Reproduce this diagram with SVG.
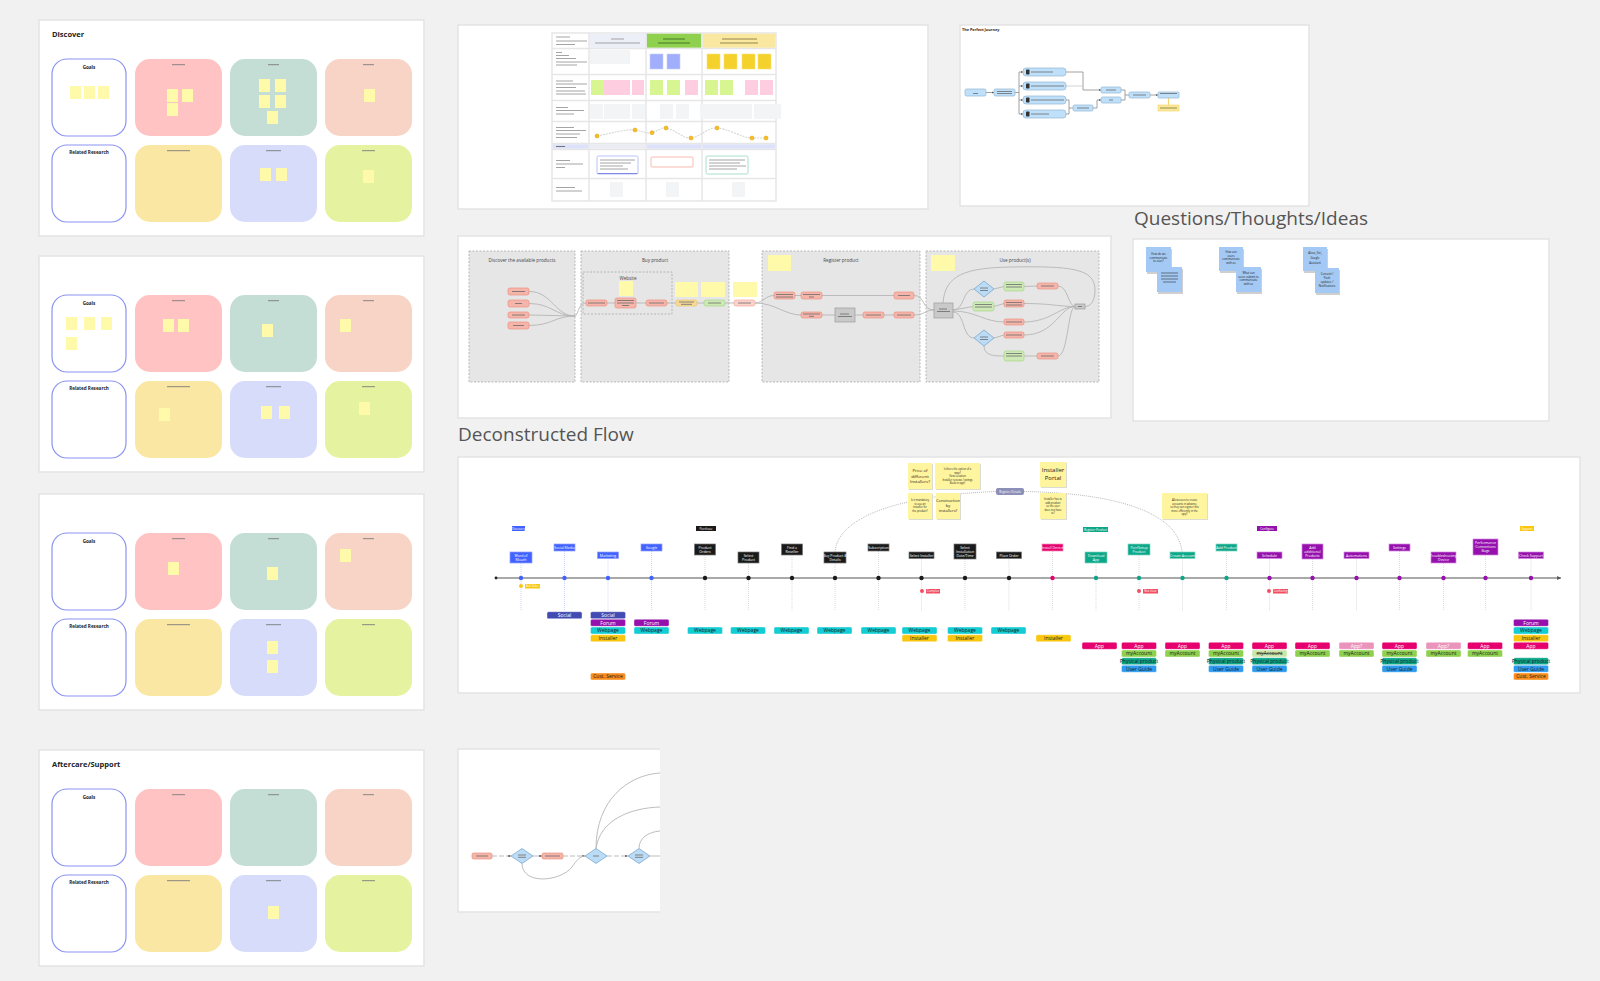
<svg xmlns="http://www.w3.org/2000/svg" width="1600" height="981" viewBox="0 0 1600 981">
<defs>
<style>
.f{font-family:"Open Sans","Liberation Sans",sans-serif}
.panel{fill:#fff;stroke:#e3e3e3;stroke-width:1.5}
.goal{fill:#fff;stroke:#8a93f0;stroke-width:1.2}
.cr{fill:#ffc3c3}.cg{fill:#c4ded6}.cp{fill:#f8d4c6}.cy{fill:#fae7a3}.cl{fill:#d7dcfa}.cm{fill:#e5f3a0}
.st{fill:#fff9aa}
.bar{stroke:#7a7a7a;stroke-width:0.9}
.ttl{font-family:"Open Sans","Liberation Sans",sans-serif;font-size:7.5px;font-weight:bold;fill:#222}
.lbl{font-family:"Open Sans","Liberation Sans",sans-serif;font-size:4.6px;font-weight:bold;fill:#222;text-anchor:middle}
.big{font-family:"Open Sans","Liberation Sans",sans-serif;font-size:19px;fill:#555}
.gl{stroke:#9a9a9a;stroke-width:0.9}
.cell{fill:#f3f4f6}
.conn{fill:none;stroke:#8a8a8a;stroke-width:0.8}
.lconn{fill:none;stroke:#b5b5b5;stroke-width:0.9}
.lane{fill:#e6e6e6;stroke:#a8a8a8;stroke-width:0.8;stroke-dasharray:2 1.5}
.lt{font-family:"Open Sans","Liberation Sans",sans-serif;font-size:4.6px;fill:#444;text-anchor:middle}
.sal{fill:#f6b5aa;stroke:#eb8f80;stroke-width:0.7}
.grn{fill:#cde9b5;stroke:#a8d58a;stroke-width:0.7}
.gry{fill:#c9c9c9;stroke:#9a9a9a;stroke-width:0.7}
.dia{fill:#bcdcf5;stroke:#6f9fcb;stroke-width:0.7}
.jn{fill:#bfe0fa;stroke:#93b5cf;stroke-width:0.7}
.il{stroke:#6a6a6a;stroke-width:0.8}
.bst{fill:#a3c9f4}
.qt{font-family:"Open Sans","Liberation Sans",sans-serif;font-size:2.8px;fill:#222;text-anchor:middle}
.ys{fill:#fff59f}
.yt{font-family:"Open Sans","Liberation Sans",sans-serif;fill:#222;text-anchor:middle}
.lb{stroke-width:0.7}
.lw{font-family:"Open Sans","Liberation Sans",sans-serif;font-size:3.5px;fill:#fff;text-anchor:middle}
.vd{stroke:#c4c4c4;stroke-width:0.6;stroke-dasharray:1 1}
.vb{stroke:#aab6ff;stroke-width:0.6;stroke-dasharray:1 1}
.tg{stroke:#fff;stroke-width:0.4}
.tt{font-family:"Open Sans","Liberation Sans",sans-serif;font-size:5px;fill:#1a1a1a;text-anchor:middle}
.tw{font-family:"Open Sans","Liberation Sans",sans-serif;font-size:5px;fill:#fff;text-anchor:middle}
.soc{fill:#414bb2}.for{fill:#9510ac}.web{fill:#12cdd4}.ins{fill:#fac710}.cus{fill:#f88d1e}.app{fill:#e6006e}.apq{fill:#ea94bb}.acc{fill:#8fd14f}.acs{fill:#c9e6a8}.phy{fill:#0ca789}.ug{fill:#2d9bf0}
.pt{font-family:"Open Sans","Liberation Sans",sans-serif;font-size:3px;fill:#fff;text-anchor:middle}
</style>
<marker id="arr" viewBox="0 0 4 4" refX="4" refY="2" markerWidth="3" markerHeight="3" orient="auto"><path d="M0,0 L4,2 L0,4z" fill="#555"/></marker>
</defs>

<rect x="0" y="0" width="1600" height="981" fill="#f1f1f1"/>

<!-- Left panel 1 -->
<g id="panel-discover" transform="translate(0,20)">
<rect class="panel" x="39" y="0" width="385" height="216"/>
<text class="ttl" x="52" y="17">Discover</text>
<rect class="goal" x="52" y="39" width="74" height="77" rx="15"/>
<text class="lbl" x="89" y="48.5">Goals</text>
<rect class="cr" x="135" y="39" width="87" height="77" rx="15"/><line class="bar" x1="172" y1="44.7" x2="185" y2="44.7"/>
<rect class="cg" x="230" y="39" width="87" height="77" rx="15"/><line class="bar" x1="268" y1="44.7" x2="279" y2="44.7"/>
<rect class="cp" x="325" y="39" width="87" height="77" rx="15"/><line class="bar" x1="363" y1="44.7" x2="374" y2="44.7"/>
<rect class="goal" x="52" y="125" width="74" height="77" rx="15"/>
<text class="lbl" x="89" y="134">Related Research</text>
<rect class="cy" x="135" y="125" width="87" height="77" rx="15"/><line class="bar" x1="167" y1="130.7" x2="190" y2="130.7"/>
<rect class="cl" x="230" y="125" width="87" height="77" rx="15"/><line class="bar" x1="266" y1="130.7" x2="281" y2="130.7"/>
<rect class="cm" x="325" y="125" width="87" height="77" rx="15"/><line class="bar" x1="362" y1="130.7" x2="375" y2="130.7"/>
<rect class="st" x="70" y="66" width="11" height="13"/><rect class="st" x="84" y="66" width="11" height="13"/><rect class="st" x="98" y="66" width="11" height="13"/>
<rect class="st" x="167" y="69" width="11" height="13"/><rect class="st" x="182" y="69" width="11" height="13"/><rect class="st" x="167" y="83" width="11" height="13"/>
<rect class="st" x="259" y="59" width="11" height="13"/><rect class="st" x="275" y="59" width="11" height="13"/><rect class="st" x="259" y="75" width="11" height="13"/><rect class="st" x="275" y="75" width="11" height="13"/><rect class="st" x="267" y="91" width="11" height="13"/>
<rect class="st" x="364" y="69" width="11" height="13"/>
<rect class="st" x="260" y="148" width="11" height="13"/><rect class="st" x="276" y="148" width="11" height="13"/>
<rect class="st" x="363" y="150" width="11" height="13"/>
</g>

<!-- Left panel 2 -->
<g id="panel-2" transform="translate(0,256)">
<rect class="panel" x="39" y="0" width="385" height="216"/>
<rect class="goal" x="52" y="39" width="74" height="77" rx="15"/>
<text class="lbl" x="89" y="48.5">Goals</text>
<rect class="cr" x="135" y="39" width="87" height="77" rx="15"/><line class="bar" x1="172" y1="44.7" x2="185" y2="44.7"/>
<rect class="cg" x="230" y="39" width="87" height="77" rx="15"/><line class="bar" x1="268" y1="44.7" x2="279" y2="44.7"/>
<rect class="cp" x="325" y="39" width="87" height="77" rx="15"/><line class="bar" x1="363" y1="44.7" x2="374" y2="44.7"/>
<rect class="goal" x="52" y="125" width="74" height="77" rx="15"/>
<text class="lbl" x="89" y="134">Related Research</text>
<rect class="cy" x="135" y="125" width="87" height="77" rx="15"/><line class="bar" x1="167" y1="130.7" x2="190" y2="130.7"/>
<rect class="cl" x="230" y="125" width="87" height="77" rx="15"/><line class="bar" x1="266" y1="130.7" x2="281" y2="130.7"/>
<rect class="cm" x="325" y="125" width="87" height="77" rx="15"/><line class="bar" x1="362" y1="130.7" x2="375" y2="130.7"/>
<rect class="st" x="66" y="61" width="11" height="13"/><rect class="st" x="84" y="61" width="11" height="13"/><rect class="st" x="101" y="61" width="11" height="13"/><rect class="st" x="66" y="81" width="11" height="13"/>
<rect class="st" x="163" y="63" width="11" height="13"/><rect class="st" x="178" y="63" width="11" height="13"/>
<rect class="st" x="262" y="68" width="11" height="13"/>
<rect class="st" x="340" y="63" width="11" height="13"/>
<rect class="st" x="159" y="152" width="11" height="13"/>
<rect class="st" x="261" y="150" width="11" height="13"/><rect class="st" x="279" y="150" width="11" height="13"/>
<rect class="st" x="359" y="146" width="11" height="13"/>
</g>

<!-- Left panel 3 -->
<g id="panel-3" transform="translate(0,494)">
<rect class="panel" x="39" y="0" width="385" height="216"/>
<rect class="goal" x="52" y="39" width="74" height="77" rx="15"/>
<text class="lbl" x="89" y="48.5">Goals</text>
<rect class="cr" x="135" y="39" width="87" height="77" rx="15"/><line class="bar" x1="172" y1="44.7" x2="185" y2="44.7"/>
<rect class="cg" x="230" y="39" width="87" height="77" rx="15"/><line class="bar" x1="268" y1="44.7" x2="279" y2="44.7"/>
<rect class="cp" x="325" y="39" width="87" height="77" rx="15"/><line class="bar" x1="363" y1="44.7" x2="374" y2="44.7"/>
<rect class="goal" x="52" y="125" width="74" height="77" rx="15"/>
<text class="lbl" x="89" y="134">Related Research</text>
<rect class="cy" x="135" y="125" width="87" height="77" rx="15"/><line class="bar" x1="167" y1="130.7" x2="190" y2="130.7"/>
<rect class="cl" x="230" y="125" width="87" height="77" rx="15"/><line class="bar" x1="266" y1="130.7" x2="281" y2="130.7"/>
<rect class="cm" x="325" y="125" width="87" height="77" rx="15"/><line class="bar" x1="362" y1="130.7" x2="375" y2="130.7"/>
<rect class="st" x="168" y="68" width="11" height="13"/>
<rect class="st" x="267" y="73" width="11" height="13"/>
<rect class="st" x="340" y="55" width="11" height="13"/>
<rect class="st" x="267" y="147" width="11" height="13"/><rect class="st" x="267" y="166" width="11" height="13"/>
</g>

<!-- Left panel 4 -->
<g id="panel-aftercare" transform="translate(0,750)">
<rect class="panel" x="39" y="0" width="385" height="216"/>
<text class="ttl" x="52" y="17">Aftercare/Support</text>
<rect class="goal" x="52" y="39" width="74" height="77" rx="15"/>
<text class="lbl" x="89" y="48.5">Goals</text>
<rect class="cr" x="135" y="39" width="87" height="77" rx="15"/><line class="bar" x1="172" y1="44.7" x2="185" y2="44.7"/>
<rect class="cg" x="230" y="39" width="87" height="77" rx="15"/><line class="bar" x1="268" y1="44.7" x2="279" y2="44.7"/>
<rect class="cp" x="325" y="39" width="87" height="77" rx="15"/><line class="bar" x1="363" y1="44.7" x2="374" y2="44.7"/>
<rect class="goal" x="52" y="125" width="74" height="77" rx="15"/>
<text class="lbl" x="89" y="134">Related Research</text>
<rect class="cy" x="135" y="125" width="87" height="77" rx="15"/><line class="bar" x1="167" y1="130.7" x2="190" y2="130.7"/>
<rect class="cl" x="230" y="125" width="87" height="77" rx="15"/><line class="bar" x1="266" y1="130.7" x2="281" y2="130.7"/>
<rect class="cm" x="325" y="125" width="87" height="77" rx="15"/><line class="bar" x1="362" y1="130.7" x2="375" y2="130.7"/>
<rect class="st" x="268" y="156" width="11" height="13"/>
</g>

<!-- Journey map table -->
<g id="journey-table">
<rect class="panel" x="458" y="25" width="470" height="184"/>
<rect x="552" y="33" width="224" height="168" fill="#fff" stroke="#e6e6e6" stroke-width="1.5"/>
<rect x="589.7" y="33.7" width="55.6" height="14.1" fill="#eceef8"/>
<rect x="646.7" y="33.7" width="54.6" height="14.1" fill="#8fd14f"/>
<rect x="702.7" y="33.7" width="72.6" height="14.1" fill="#fae8a0"/>
<rect x="552.7" y="144.2" width="35.6" height="4.6" fill="#dde1fa"/>
<rect x="589.7" y="144.2" width="55.6" height="4.6" fill="#ecedf4"/>
<rect x="646.7" y="144.2" width="54.6" height="4.6" fill="#dde1fa"/>
<rect x="702.7" y="144.2" width="72.6" height="4.6" fill="#dde1fa"/>
<g stroke="#e6e6e6" stroke-width="1.5">
<line x1="589" y1="33" x2="589" y2="201"/><line x1="646" y1="33" x2="646" y2="201"/><line x1="702" y1="33" x2="702" y2="201"/>
<line x1="552" y1="48.5" x2="776" y2="48.5"/><line x1="552" y1="74.5" x2="776" y2="74.5"/><line x1="552" y1="100.5" x2="776" y2="100.5"/><line x1="552" y1="121.5" x2="776" y2="121.5"/><line x1="552" y1="143.5" x2="776" y2="143.5"/><line x1="552" y1="149.5" x2="776" y2="149.5"/><line x1="552" y1="178.5" x2="776" y2="178.5"/>
</g>
<g class="gl">
<line x1="556" y1="37" x2="570" y2="37"/><line x1="556" y1="41" x2="587" y2="41"/><line x1="556" y1="44.5" x2="575" y2="44.5"/>
<line x1="556" y1="52.5" x2="562" y2="52.5"/><line x1="556" y1="55.5" x2="569" y2="55.5"/><line x1="556" y1="58.5" x2="576" y2="58.5"/><line x1="556" y1="62" x2="587" y2="62"/><line x1="556" y1="65" x2="577" y2="65"/>
<line x1="556" y1="81" x2="573" y2="81"/><line x1="556" y1="84" x2="587" y2="84"/><line x1="556" y1="87.5" x2="576" y2="87.5"/><line x1="556" y1="91" x2="585" y2="91"/><line x1="556" y1="94" x2="586" y2="94"/>
<line x1="556" y1="107.5" x2="568" y2="107.5"/><line x1="556" y1="110.5" x2="584" y2="110.5"/><line x1="556" y1="114" x2="574" y2="114"/>
<line x1="556" y1="127.5" x2="574" y2="127.5"/><line x1="556" y1="130.5" x2="586" y2="130.5"/><line x1="556" y1="134" x2="580" y2="134"/><line x1="556" y1="137.5" x2="577" y2="137.5"/>
<line x1="556" y1="146.5" x2="565" y2="146.5" stroke="#666"/>
<line x1="556" y1="160.5" x2="570" y2="160.5"/><line x1="556" y1="164" x2="583" y2="164"/><line x1="556" y1="167.5" x2="565" y2="167.5"/>
<line x1="556" y1="187.5" x2="575" y2="187.5"/><line x1="556" y1="191" x2="582" y2="191"/>
<line x1="611" y1="39" x2="624" y2="39"/><line x1="595" y1="43" x2="640" y2="43"/>
<line x1="663" y1="39" x2="685" y2="39" stroke="#3d6b1f"/><line x1="658" y1="43" x2="690" y2="43" stroke="#3d6b1f"/>
<line x1="722" y1="39" x2="757" y2="39" stroke="#8a7a40"/><line x1="720" y1="43" x2="758" y2="43" stroke="#8a7a40"/>
</g>
<rect class="cell" x="590" y="50" width="40" height="14"/>
<g fill="#a1aefc" stroke="#c6cefc" stroke-width="0.6"><rect x="650" y="54" width="13" height="15"/><rect x="667" y="54" width="13" height="15"/></g>
<g fill="#f5d12c" stroke="#f9e27a" stroke-width="0.6"><rect x="707" y="54" width="13" height="15"/><rect x="724" y="54" width="13" height="15"/><rect x="742" y="54" width="13" height="15"/><rect x="758" y="54" width="13" height="15"/></g>
<g fill="#d7f590"><rect x="591" y="80" width="13" height="15"/><rect x="650" y="80" width="13" height="15"/><rect x="667" y="80" width="13" height="15"/><rect x="705" y="80" width="13" height="15"/><rect x="720" y="80" width="13" height="15"/></g>
<g fill="#ffcde0"><rect x="604" y="80" width="26" height="15"/><rect x="632" y="80" width="12" height="15"/><rect x="685" y="80" width="13" height="15"/><rect x="745" y="80" width="13" height="15"/><rect x="760" y="80" width="13" height="15"/></g>
<g class="cell"><rect x="590" y="104" width="13" height="15"/><rect x="604" y="104" width="26" height="15"/><rect x="632" y="104" width="13" height="15"/><rect x="660" y="104" width="13" height="15"/><rect x="676" y="104" width="13" height="15"/><rect x="700" y="104" width="52" height="15"/><rect x="754" y="104" width="27" height="15"/></g>
<path d="M597,136 C613,133 625,129 635,130 C642,131 647,134 652,132.7 C658,131 661,127 666,128 C676,130 684,139 691,138 C700,137 708,127 717,128 C730,129 742,138 752,138 L766,138" fill="none" stroke="#d6d6d6" stroke-width="1.1" stroke-dasharray="2 1"/>
<g fill="#f7bd25" stroke="#e09a00" stroke-width="0.5"><circle cx="597" cy="136" r="2"/><circle cx="635" cy="130" r="2"/><circle cx="652" cy="132.7" r="2"/><circle cx="666" cy="128" r="2"/><circle cx="691" cy="138" r="2"/><circle cx="717" cy="128" r="2"/><circle cx="752" cy="138" r="2"/><circle cx="766" cy="138" r="2"/></g>
<rect x="597" y="156" width="41" height="18" rx="1.5" fill="#fff" stroke="#a9b1f5" stroke-width="0.8"/>
<line x1="597.5" y1="173.5" x2="637.5" y2="173.5" stroke="#7d88e8" stroke-width="1.2"/>
<g class="gl" stroke-width="0.7"><line x1="600" y1="160" x2="635" y2="160"/><line x1="600" y1="163" x2="631" y2="163"/><line x1="600" y1="166" x2="623" y2="166"/><line x1="600" y1="169" x2="628" y2="169"/></g>
<rect x="651" y="157" width="42" height="10" rx="1" fill="#fff" stroke="#f7a79a" stroke-width="0.8"/>
<rect x="706" y="156" width="42" height="18" rx="1.5" fill="#fff" stroke="#8fd6c0" stroke-width="0.8"/>
<g class="gl" stroke-width="0.7"><line x1="709" y1="160" x2="745" y2="160"/><line x1="709" y1="163" x2="740" y2="163"/><line x1="709" y1="166" x2="746" y2="166"/><line x1="709" y1="169" x2="737" y2="169"/></g>
<rect class="cell" x="610" y="182" width="13" height="15"/><rect class="cell" x="666" y="182" width="13" height="15"/><rect class="cell" x="732" y="182" width="13" height="15"/>
</g>

<!-- The Perfect Journey -->
<g id="perfect-journey">
<rect class="panel" x="960" y="25" width="349" height="181"/>
<text class="f" x="962" y="30.5" font-size="3.8" font-weight="bold" fill="#222">The Perfect Journey</text>
<g class="conn">
<path d="M986,92.5 L994,92.5" marker-end="url(#arr)"/>
<path d="M1015,92.5 L1019,92.5 M1019,72 L1019,114"/>
<path d="M1019,72 L1023,72" marker-end="url(#arr)"/><path d="M1019,86 L1023,86" marker-end="url(#arr)"/><path d="M1019,100 L1023,100" marker-end="url(#arr)"/><path d="M1019,114 L1023,114" marker-end="url(#arr)"/>
<path d="M1066,72 L1083,72 L1083,90 L1101,90" marker-end="url(#arr)"/>
<path d="M1066,86 L1083,86" stroke="#c8c8c8"/>
<path d="M1066,100 L1069,100 L1069,114 L1066,114 M1069,108 L1073,108"/>
<path d="M1093,108 L1097,108 L1097,100 L1101,100" marker-end="url(#arr)"/>
<path d="M1121,90 L1125,90 L1125,100 L1121,100 M1125,95 L1129,95"/>
<path d="M1150,95 L1158,95" marker-end="url(#arr)"/>
</g>
<line x1="1168.5" y1="98" x2="1168.5" y2="105" stroke="#f3c94a" stroke-width="0.8"/>
<rect class="jn" x="965" y="89" width="21" height="7" rx="1.5"/><line class="il" x1="973" y1="93.5" x2="978" y2="93.5"/>
<rect class="jn" x="994" y="89" width="21" height="7" rx="1.5"/><line class="il" x1="997" y1="91.5" x2="1012" y2="91.5"/><line class="il" x1="997" y1="93.5" x2="1012" y2="93.5"/>
<rect class="jn" x="1023" y="68" width="43" height="8" rx="3"/><rect x="1026" y="69.5" width="3.5" height="5" rx="0.8" fill="#333"/><line class="il" x1="1031" y1="72" x2="1053" y2="72"/>
<rect class="jn" x="1023" y="82" width="43" height="8" rx="3"/><rect x="1026" y="83.5" width="3.5" height="5" rx="0.8" fill="#333"/><line class="il" x1="1031" y1="86" x2="1064" y2="86"/>
<rect class="jn" x="1023" y="96" width="43" height="8" rx="3"/><rect x="1026" y="97.5" width="3.5" height="5" rx="0.8" fill="#333"/><line class="il" x1="1031" y1="100" x2="1064" y2="100"/>
<rect class="jn" x="1023" y="110" width="43" height="8" rx="3"/><rect x="1026" y="111.5" width="3.5" height="5" rx="0.8" fill="#333"/><line class="il" x1="1031" y1="114" x2="1049" y2="114"/>
<rect class="jn" x="1073" y="105" width="20" height="6" rx="1.5"/><line class="il" x1="1077" y1="108" x2="1089" y2="108"/>
<rect class="jn" x="1101" y="87" width="20" height="6" rx="1.5"/><line class="il" x1="1106" y1="90" x2="1116" y2="90"/>
<rect class="jn" x="1101" y="97" width="20" height="6" rx="1.5"/><line class="il" x1="1109" y1="100" x2="1113" y2="100"/>
<rect class="jn" x="1129" y="92" width="21" height="6" rx="1.5"/><line class="il" x1="1133" y1="95" x2="1146" y2="95"/>
<rect class="jn" x="1158" y="92" width="21" height="6" rx="1"/><line class="il" x1="1160" y1="93.5" x2="1177" y2="93.5"/>
<rect x="1158" y="105" width="21" height="6" fill="#fbe99a" stroke="#f3d36a" stroke-width="0.6"/><line x1="1160" y1="108" x2="1177" y2="108" stroke="#a89a5a" stroke-width="1.2"/>
</g>

<!-- Middle flow -->
<g id="product-flow">
<rect class="panel" x="458" y="236" width="653" height="182"/>
<rect class="lane" x="469" y="251" width="106" height="131"/>
<text class="lt" x="522" y="261.5">Discover the available products</text>
<rect class="lane" x="581" y="251" width="148" height="131"/>
<text class="lt" x="655" y="262">Buy product</text>
<rect x="583" y="272" width="89" height="42" fill="none" stroke="#a8a8a8" stroke-width="0.8" stroke-dasharray="2 1.5"/>
<text class="lt" x="628" y="279.5">Website</text>
<rect class="lane" x="762" y="251" width="158" height="131"/>
<text class="lt" x="841" y="262">Register product</text>
<rect class="lane" x="926" y="251" width="173" height="131"/>
<text class="lt" x="1015" y="262">Use product(s)</text>
<g class="st"><rect x="619" y="281" width="14" height="15"/><rect x="675" y="282" width="23" height="15"/><rect x="701" y="282" width="24" height="15"/><rect x="733" y="282" width="24" height="15"/><rect x="768" y="255" width="23" height="16"/><rect x="931" y="255" width="24" height="16"/></g>
<g class="lconn">
<path d="M529,291.5 C552,291.5 555,316 575,316"/><path d="M529,303.5 C552,303.5 555,316 575,316"/><path d="M529,315 L575,316"/><path d="M529,325.5 C552,325.5 555,316 575,316"/>
<path d="M575,316 C578,316 578,303 586,303"/>
<path d="M607,303 L615,303"/><path d="M636,303 L646,303"/><path d="M667,303 L676,303"/><path d="M697,303 L704,303"/><path d="M725,303 L734,303"/>
<path d="M755,303 C763,303 765,295.5 774,295.5"/><path d="M755,303 C775,303 785,315 801,315"/>
<path d="M795,295.5 L801,295.5"/><path d="M822,295.5 L894,295.5"/>
<path d="M822,315 L835,315"/><path d="M855,315 L863,315"/><path d="M884,315 L894,315"/>
<path d="M914,295.5 C925,295.5 922,310 934,310"/><path d="M914,315 C925,315 925,310 934,310"/>
<path d="M953,310 C965,310 962,289 974,289"/><path d="M953,310 L973,306.5"/><path d="M953,311 C975,311 985,322 1004,322"/><path d="M953,312 C965,312 962,338 974,338"/>
<path d="M994,289 L1004,286.5"/><path d="M1024,286.5 L1037,286"/><path d="M994,306.5 L1004,303.5"/><path d="M994,338 L1004,335"/>
<path d="M984,346 C984,356 995,356 1004,356"/><path d="M1024,356 L1037,356"/>
<path d="M1058,286 C1068,286 1068,306 1075,306.5"/><path d="M1024,303.5 C1050,303.5 1060,306.5 1075,306.5"/><path d="M1024,322 C1050,322 1060,306.5 1075,306.5"/><path d="M1024,335 C1055,335 1060,306.5 1075,306.5"/><path d="M1058,356 C1068,356 1068,306.5 1075,306.5"/>
<path d="M943,303 C945,275 965,268 1010,267 C1070,266 1095,268 1095,290 C1095,302 1090,306.5 1085,306.5"/>
</g>
<rect class="sal" x="508" y="288" width="21" height="7" rx="2"/><line class="il" x1="512" y1="291.5" x2="525" y2="291.5"/>
<rect class="sal" x="508" y="300" width="21" height="7" rx="2"/><line class="il" x1="515" y1="303.5" x2="522" y2="303.5"/>
<rect class="sal" x="508" y="312" width="21" height="6" rx="2"/><line class="il" x1="512" y1="315" x2="525" y2="315"/>
<rect class="sal" x="508" y="322" width="21" height="7" rx="2"/><line class="il" x1="513" y1="325.5" x2="524" y2="325.5"/>
<rect class="sal" x="586" y="300" width="21" height="6" rx="2"/><line class="il" x1="588" y1="303" x2="605" y2="303"/>
<rect class="sal" x="615" y="298" width="21" height="10" rx="2"/><line class="il" x1="617" y1="300.5" x2="634" y2="300.5"/><line class="il" x1="617" y1="303" x2="634" y2="303"/><line class="il" x1="622" y1="305.5" x2="629" y2="305.5"/>
<rect class="sal" x="646" y="300" width="21" height="6" rx="2"/><line class="il" x1="649" y1="303" x2="664" y2="303"/>
<rect x="676" y="300" width="21" height="6" rx="2" fill="#f7da99" stroke="#e6c46c" stroke-width="0.7"/><line class="il" x1="679" y1="302" x2="694" y2="302"/><line class="il" x1="681" y1="304.3" x2="692" y2="304.3"/>
<rect class="grn" x="704" y="300" width="21" height="6" rx="2"/><line class="il" x1="708" y1="303" x2="721" y2="303"/>
<rect x="734" y="300" width="21" height="6" rx="2" fill="#fcd3cc" stroke="#f3a99c" stroke-width="0.7"/><line class="il" x1="738" y1="303" x2="751" y2="303"/>
<rect class="sal" x="774" y="292" width="21" height="7" rx="2"/><line class="il" x1="776" y1="294.5" x2="793" y2="294.5"/><line class="il" x1="776" y1="297" x2="793" y2="297"/>
<rect class="sal" x="801" y="292" width="21" height="7" rx="2"/><line class="il" x1="803" y1="294.5" x2="820" y2="294.5"/><line class="il" x1="809" y1="297" x2="814" y2="297"/>
<rect class="sal" x="894" y="292" width="20" height="7" rx="2"/><line class="il" x1="898" y1="295.5" x2="910" y2="295.5"/>
<rect class="sal" x="801" y="312" width="21" height="6" rx="2"/><line class="il" x1="803" y1="314" x2="820" y2="314"/><line class="il" x1="809" y1="316.3" x2="814" y2="316.3"/>
<rect class="gry" x="835" y="308" width="20" height="14"/><line class="il" x1="840" y1="314" x2="849" y2="314"/><line class="il" x1="838" y1="316.5" x2="852" y2="316.5"/>
<rect class="sal" x="863" y="312" width="21" height="6" rx="2"/><line class="il" x1="866" y1="315" x2="881" y2="315"/>
<rect class="sal" x="894" y="312" width="20" height="6" rx="2"/><line class="il" x1="897" y1="315" x2="911" y2="315"/>
<rect class="gry" x="934" y="303" width="19" height="15"/><line class="il" x1="939" y1="309" x2="947" y2="309"/><line class="il" x1="937" y1="311.5" x2="950" y2="311.5"/>
<path class="dia" d="M984,281 L994,289 L984,297 L974,289 Z"/><line class="il" x1="980" y1="288" x2="988" y2="288"/><line class="il" x1="980" y1="290.5" x2="988" y2="290.5"/>
<path class="dia" d="M984,330 L994,338 L984,346 L974,338 Z"/><line class="il" x1="980" y1="337" x2="988" y2="337"/><line class="il" x1="980" y1="339.5" x2="988" y2="339.5"/>
<rect class="grn" x="1004" y="282" width="20" height="9" rx="2"/><line class="il" x1="1006" y1="284.5" x2="1022" y2="284.5"/><line class="il" x1="1006" y1="287" x2="1022" y2="287"/>
<rect class="grn" x="973" y="302" width="21" height="9" rx="2"/><line class="il" x1="975" y1="304.5" x2="992" y2="304.5"/><line class="il" x1="975" y1="307" x2="992" y2="307"/>
<rect class="grn" x="1004" y="351" width="20" height="10" rx="2"/><line class="il" x1="1006" y1="353.5" x2="1022" y2="353.5"/><line class="il" x1="1006" y1="356" x2="1022" y2="356"/>
<rect class="sal" x="1037" y="283" width="21" height="6" rx="2"/><line class="il" x1="1041" y1="286" x2="1054" y2="286"/>
<rect class="sal" x="1004" y="300" width="20" height="7" rx="2"/><line class="il" x1="1006" y1="302.5" x2="1022" y2="302.5"/><line class="il" x1="1006" y1="305" x2="1022" y2="305"/>
<rect class="sal" x="1004" y="319" width="20" height="6" rx="2"/><line class="il" x1="1006" y1="322" x2="1022" y2="322"/>
<rect class="sal" x="1004" y="332" width="20" height="6" rx="2"/><line class="il" x1="1006" y1="335" x2="1022" y2="335"/>
<rect class="sal" x="1037" y="353" width="21" height="6" rx="2"/><line class="il" x1="1041" y1="356" x2="1054" y2="356"/>
<rect class="gry" x="1075" y="304" width="10" height="5"/><line class="il" x1="1078" y1="306.5" x2="1082" y2="306.5"/>
</g>

<!-- Questions/Thoughts/Ideas -->
<g id="questions">
<text class="big" x="1134" y="225">Questions/Thoughts/Ideas</text>
<rect class="panel" x="1133" y="239" width="416" height="182"/>
<g fill="#cfcfcf"><rect x="1147" y="249" width="25" height="25"/><rect x="1158" y="269" width="25" height="25"/><rect x="1220" y="249" width="24" height="24"/><rect x="1237" y="269" width="25" height="25"/><rect x="1304" y="249" width="24" height="24"/><rect x="1316" y="270" width="24" height="25"/></g>
<rect class="bst" x="1146" y="247" width="25" height="25"/>
<text class="qt" x="1158.5" y="255">How do we</text><text class="qt" x="1158.5" y="258.5">communicate</text><text class="qt" x="1158.5" y="262">to user?</text>
<rect class="bst" x="1157" y="267" width="25" height="25"/>
<g stroke="#333" stroke-width="0.6"><line x1="1161" y1="273" x2="1178" y2="273"/><line x1="1161" y1="276" x2="1178" y2="276"/><line x1="1161" y1="279" x2="1178" y2="279"/><line x1="1163" y1="282" x2="1176" y2="282"/></g>
<rect class="bst" x="1219" y="247" width="24" height="24"/>
<text class="qt" x="1231" y="253">How can</text><text class="qt" x="1231" y="256.5">users</text><text class="qt" x="1231" y="260">communicate</text><text class="qt" x="1231" y="263.5">with us</text>
<rect class="bst" x="1236" y="267" width="25" height="25"/>
<text class="qt" x="1248.5" y="274">What can</text><text class="qt" x="1248.5" y="277.5">users submit to</text><text class="qt" x="1248.5" y="281">communicate</text><text class="qt" x="1248.5" y="284.5">with us</text>
<rect class="bst" x="1303" y="247" width="24" height="24"/>
<text class="qt" x="1315" y="254" font-size="4">Alexa, Siri,</text><text class="qt" x="1315" y="259" font-size="4">Google</text><text class="qt" x="1315" y="264" font-size="4">Assistant</text>
<rect class="bst" x="1315" y="268" width="24" height="25"/>
<text class="qt" x="1327" y="275">Consent /</text><text class="qt" x="1327" y="279">Push</text><text class="qt" x="1327" y="283">updates /</text><text class="qt" x="1327" y="287">Notifications</text>
</g>

<!-- Deconstructed Flow -->
<text class="big" x="458" y="441">Deconstructed Flow</text>
<g id="deconstructed-flow">
<rect class="panel" x="458" y="457" width="1122" height="236"/>
<path d="M835,552 C838,515 905,495 996,491.5 M1024,491.5 C1110,493 1178,510 1182,552" fill="none" stroke="#999" stroke-width="0.7" stroke-dasharray="1 1"/>
<g fill="#dcdcd0"><rect x="909" y="464" width="24" height="26"/><rect x="936" y="464" width="45" height="26"/><rect x="909" y="494" width="24" height="26"/><rect x="937" y="494" width="24" height="26"/><rect x="1041" y="463" width="26" height="25"/><rect x="1041" y="494" width="26" height="26"/><rect x="1163" y="494" width="45" height="26"/></g>
<rect class="ys" x="908" y="463" width="24" height="26"/>
<text class="yt" font-size="4.3" x="920" y="472">Price of</text><text class="yt" font-size="4.3" x="920" y="477.5">different</text><text class="yt" font-size="4.3" x="920" y="483">Installers?</text>
<rect class="ys" x="935" y="463" width="45" height="26"/>
<text class="yt" font-size="2.6" x="957.5" y="470">Is there the option of a</text><text class="yt" font-size="2.6" x="957.5" y="473.5">map?</text><text class="yt" font-size="2.6" x="957.5" y="477">View Location</text><text class="yt" font-size="2.6" x="957.5" y="480.5">Installer reviews / ratings</text><text class="yt" font-size="2.6" x="957.5" y="484">Book in app?</text>
<rect class="ys" x="908" y="493" width="24" height="26"/>
<text class="yt" font-size="2.6" x="920" y="501">Is it mandatory</text><text class="yt" font-size="2.6" x="920" y="504.5">to use an</text><text class="yt" font-size="2.6" x="920" y="508">installer for</text><text class="yt" font-size="2.6" x="920" y="511.5">the product?</text>
<rect class="ys" x="936" y="493" width="24" height="26"/>
<text class="yt" font-size="4" x="948" y="502">Construction</text><text class="yt" font-size="4" x="948" y="507">by</text><text class="yt" font-size="4" x="948" y="512">installers?</text>
<rect class="ys" x="1040" y="462" width="26" height="25"/>
<text class="yt" font-size="6" x="1053" y="472">Installer</text><text class="yt" font-size="6" x="1053" y="480">Portal</text>
<rect class="ys" x="1040" y="493" width="26" height="26"/>
<text class="yt" font-size="2.6" x="1053" y="500">Installer has to</text><text class="yt" font-size="2.6" x="1053" y="503.5">add product</text><text class="yt" font-size="2.6" x="1053" y="507">so the user</text><text class="yt" font-size="2.6" x="1053" y="510.5">does not have</text><text class="yt" font-size="2.6" x="1053" y="514">to?</text>
<rect class="ys" x="1162" y="493" width="45" height="26"/>
<text class="yt" font-size="2.6" x="1184.5" y="501">Allow users to create</text><text class="yt" font-size="2.6" x="1184.5" y="504.5">accounts in advance</text><text class="yt" font-size="2.6" x="1184.5" y="508">so they can register this</text><text class="yt" font-size="2.6" x="1184.5" y="511.5">more efficiently in the</text><text class="yt" font-size="2.6" x="1184.5" y="515">app?</text>
<rect x="996" y="488" width="28" height="7" rx="2" fill="#8c8fb8"/><text class="pt" x="1010" y="492.6">Register Details</text>
<rect x="512" y="526" width="13" height="5" fill="#4262ff"/><text class="pt" x="518.5" y="529.8" font-size="2.8">Discovery</text>
<rect x="696" y="526" width="20" height="5" fill="#1a1a1a"/><text class="pt" x="706" y="529.8" font-size="2.8">Purchase</text>
<rect x="1083" y="527" width="25" height="5" fill="#0ca789"/><text class="pt" x="1095.5" y="530.8" font-size="2.8">Register Product</text>
<rect x="1257" y="526" width="20" height="5" fill="#9510ac"/><text class="pt" x="1267" y="529.8" font-size="2.8">Configure</text>
<rect x="1520" y="526" width="14" height="5" fill="#fac710"/><text class="pt" x="1527" y="529.8" font-size="2.8" fill="#222">Support</text>
<g class="vb"><line x1="521" y1="563" x2="521" y2="611"/><line x1="564.5" y1="551" x2="564.5" y2="611"/><line x1="608" y1="558.5" x2="608" y2="611"/><line x1="651.5" y1="551" x2="651.5" y2="611"/></g>
<g class="vd"><line x1="705" y1="555" x2="705" y2="611"/><line x1="748.5" y1="563" x2="748.5" y2="611"/><line x1="792" y1="555" x2="792" y2="611"/><line x1="835" y1="563" x2="835" y2="611"/><line x1="878.5" y1="551" x2="878.5" y2="611"/><line x1="921.5" y1="558.5" x2="921.5" y2="611"/><line x1="965" y1="559" x2="965" y2="611"/><line x1="1009" y1="558.5" x2="1009" y2="611"/><line x1="1052.5" y1="551" x2="1052.5" y2="611"/><line x1="1096" y1="563" x2="1096" y2="611"/><line x1="1139" y1="555" x2="1139" y2="611"/><line x1="1182.5" y1="558.5" x2="1182.5" y2="611"/><line x1="1226.5" y1="551" x2="1226.5" y2="611"/><line x1="1269.5" y1="558.5" x2="1269.5" y2="611"/><line x1="1312.5" y1="559" x2="1312.5" y2="611"/><line x1="1356.5" y1="558.5" x2="1356.5" y2="611"/><line x1="1399.5" y1="551" x2="1399.5" y2="611"/><line x1="1443.5" y1="563" x2="1443.5" y2="611"/><line x1="1485.5" y1="555" x2="1485.5" y2="611"/><line x1="1531" y1="558.5" x2="1531" y2="611"/></g>
<line x1="496" y1="578" x2="1561" y2="578" stroke="#8c8c8c" stroke-width="1.3" marker-end="url(#arr)"/>
<circle cx="496" cy="578" r="1.4" fill="#222"/>
<g fill="#4262ff"><circle cx="521" cy="578" r="2.2"/><circle cx="564.5" cy="578" r="2.2"/><circle cx="608" cy="578" r="2.2"/><circle cx="651.5" cy="578" r="2.2"/></g>
<g fill="#1a1a1a"><circle cx="705" cy="578" r="2.2"/><circle cx="748.5" cy="578" r="2.2"/><circle cx="792" cy="578" r="2.2"/><circle cx="835" cy="578" r="2.2"/><circle cx="878.5" cy="578" r="2.2"/><circle cx="921.5" cy="578" r="2.2"/><circle cx="965" cy="578" r="2.2"/><circle cx="1009" cy="578" r="2.2"/></g>
<circle cx="1052.5" cy="578" r="2.2" fill="#e6006e"/>
<g fill="#0ca789"><circle cx="1096" cy="578" r="2.2"/><circle cx="1139" cy="578" r="2.2"/><circle cx="1182.5" cy="578" r="2.2"/><circle cx="1226.5" cy="578" r="2.2"/></g>
<g fill="#9510ac"><circle cx="1269.5" cy="578" r="2.2"/><circle cx="1312.5" cy="578" r="2.2"/><circle cx="1356.5" cy="578" r="2.2"/><circle cx="1399.5" cy="578" r="2.2"/><circle cx="1443.5" cy="578" r="2.2"/><circle cx="1485.5" cy="578" r="2.2"/><circle cx="1531" cy="578" r="2.2"/></g>
<circle cx="521" cy="586" r="2" fill="#fac710"/><rect x="525" y="584" width="15" height="4.5" fill="#fac710"/><text class="pt" x="532.5" y="587.3" font-size="2.8" fill="#222">Ask Sales</text>
<circle cx="922" cy="591" r="2" fill="#f24d62"/><rect x="926" y="589" width="14" height="4.5" fill="#f24d62"/><text class="pt" x="933" y="592.3" font-size="2.8">Complex</text>
<circle cx="1139" cy="591" r="2" fill="#f24d62"/><rect x="1143" y="589" width="15" height="4.5" fill="#f24d62"/><text class="pt" x="1150.5" y="592.3" font-size="2.8">Not clear</text>
<circle cx="1269" cy="591" r="2" fill="#f24d62"/><rect x="1273" y="589" width="15" height="4.5" fill="#f24d62"/><text class="pt" x="1280.5" y="592.3" font-size="2.8">Confusing</text>
<g class="lb" stroke="#8fa0ff">
<rect x="510" y="552" width="22" height="11" fill="#4262ff"/><rect x="554" y="544" width="21" height="7" fill="#4262ff"/><rect x="597.5" y="552" width="21" height="6.5" fill="#4262ff"/><rect x="641" y="544" width="21" height="7" fill="#4262ff"/>
</g>
<g class="lb" stroke="#777">
<rect x="694.5" y="544" width="21" height="11" fill="#1a1a1a"/><rect x="738" y="552" width="21" height="11" fill="#1a1a1a"/><rect x="781.5" y="544" width="21" height="11" fill="#1a1a1a"/><rect x="824" y="552" width="22" height="11" fill="#1a1a1a"/><rect x="868" y="544" width="21" height="7" fill="#1a1a1a"/><rect x="909" y="552" width="25" height="6.5" fill="#1a1a1a"/><rect x="954" y="544" width="22" height="15" fill="#1a1a1a"/><rect x="996.5" y="552" width="25" height="6.5" fill="#1a1a1a"/>
</g>
<rect class="lb" stroke="#f58db8" x="1042" y="544" width="21" height="7" fill="#e6006e"/>
<g class="lb" stroke="#7fd6c0">
<rect x="1085" y="552" width="22" height="11" fill="#0ca789"/><rect x="1128" y="544" width="22" height="11" fill="#0ca789"/><rect x="1170" y="552" width="25" height="6.5" fill="#0ca789"/><rect x="1216" y="544" width="21" height="7" fill="#0ca789"/>
</g>
<g class="lb" stroke="#d38be0">
<rect x="1257" y="552" width="25" height="6.5" fill="#9510ac"/><rect x="1302" y="544" width="21" height="15" fill="#9510ac"/><rect x="1344" y="552" width="25" height="6.5" fill="#9510ac"/><rect x="1389" y="544" width="21" height="7" fill="#9510ac"/><rect x="1431" y="552" width="25" height="11" fill="#9510ac"/><rect x="1473" y="539" width="25" height="16" fill="#9510ac"/><rect x="1518.5" y="552" width="25" height="6.5" fill="#9510ac"/>
</g>
<text class="lw" x="521" y="557">Word of</text><text class="lw" x="521" y="561">Mouth</text>
<text class="lw" x="564.5" y="548.8">Social Media</text>
<text class="lw" x="608" y="556.5">Marketing</text>
<text class="lw" x="651.5" y="548.8">Google</text>
<text class="lw" x="705" y="549">Product</text><text class="lw" x="705" y="553">Orders</text>
<text class="lw" x="748.5" y="557">Select</text><text class="lw" x="748.5" y="561">Product</text>
<text class="lw" x="792" y="549">Find a</text><text class="lw" x="792" y="553">Reseller</text>
<text class="lw" x="835" y="557">Buy Product &amp;</text><text class="lw" x="835" y="561">Details</text>
<text class="lw" x="878.5" y="548.8">Subscription</text>
<text class="lw" x="921.5" y="556.5">Select Installer</text>
<text class="lw" x="965" y="549">Select</text><text class="lw" x="965" y="553">Installation</text><text class="lw" x="965" y="557">Date/Time</text>
<text class="lw" x="1009" y="556.5">Place Order</text>
<text class="lw" x="1052.5" y="548.8">Install Device</text>
<text class="lw" x="1096" y="557">Download</text><text class="lw" x="1096" y="561">App</text>
<text class="lw" x="1139" y="549">Pair/Setup</text><text class="lw" x="1139" y="553">Product</text>
<text class="lw" x="1182.5" y="556.5">Create Account</text>
<text class="lw" x="1226.5" y="548.8">Add Product</text>
<text class="lw" x="1269.5" y="556.5">Schedule</text>
<text class="lw" x="1312.5" y="549">Add</text><text class="lw" x="1312.5" y="553">additional</text><text class="lw" x="1312.5" y="557">Products</text>
<text class="lw" x="1356.5" y="556.5">Automations</text>
<text class="lw" x="1399.5" y="548.8">Settings</text>
<text class="lw" x="1443.5" y="557">Troubleshooting</text><text class="lw" x="1443.5" y="561">Device</text>
<text class="lw" x="1485.5" y="544">Performance</text><text class="lw" x="1485.5" y="548">Connections</text><text class="lw" x="1485.5" y="552">Bugs</text>
<text class="lw" x="1531" y="556.5">Check Support</text>
<g class="tg">
<rect class="soc" x="547" y="611.7" width="35" height="7" rx="1.5"/>
<rect class="soc" x="590.5" y="611.7" width="35" height="7" rx="1.5"/><rect class="for" x="590.5" y="619.3" width="35" height="7" rx="1.5"/><rect class="web" x="590.5" y="627" width="35" height="7" rx="1.5"/><rect class="ins" x="590.5" y="634.7" width="35" height="7" rx="1.5"/><rect class="cus" x="590.5" y="673" width="35" height="7" rx="1.5"/>
<rect class="for" x="634" y="619.3" width="35" height="7" rx="1.5"/><rect class="web" x="634" y="627" width="35" height="7" rx="1.5"/>
<rect class="web" x="687.5" y="627" width="35" height="7" rx="1.5"/><rect class="web" x="730.5" y="627" width="35" height="7" rx="1.5"/><rect class="web" x="774" y="627" width="35" height="7" rx="1.5"/><rect class="web" x="817" y="627" width="35" height="7" rx="1.5"/><rect class="web" x="861" y="627" width="35" height="7" rx="1.5"/>
<rect class="web" x="902" y="627" width="35" height="7" rx="1.5"/><rect class="ins" x="902" y="634.7" width="35" height="7" rx="1.5"/>
<rect class="web" x="947.5" y="627" width="35" height="7" rx="1.5"/><rect class="ins" x="947.5" y="634.7" width="35" height="7" rx="1.5"/>
<rect class="web" x="991" y="627" width="35" height="7" rx="1.5"/>
<rect class="ins" x="1036" y="634.7" width="35" height="7" rx="1.5"/>
<rect class="app" x="1082" y="642.3" width="35" height="7" rx="1.5"/>
<rect class="app" x="1121.5" y="642.3" width="35" height="7" rx="1.5"/><rect class="acc" x="1121.5" y="650" width="35" height="7" rx="1.5"/><rect class="phy" x="1121.5" y="657.7" width="35" height="7" rx="1.5"/><rect class="ug" x="1121.5" y="665.3" width="35" height="7" rx="1.5"/>
<rect class="app" x="1165" y="642.3" width="35" height="7" rx="1.5"/><rect class="acc" x="1165" y="650" width="35" height="7" rx="1.5"/>
<rect class="app" x="1208.5" y="642.3" width="35" height="7" rx="1.5"/><rect class="acc" x="1208.5" y="650" width="35" height="7" rx="1.5"/><rect class="phy" x="1208.5" y="657.7" width="35" height="7" rx="1.5"/><rect class="ug" x="1208.5" y="665.3" width="35" height="7" rx="1.5"/>
<rect class="app" x="1252" y="642.3" width="35" height="7" rx="1.5"/><rect class="acs" x="1252" y="650" width="35" height="7" rx="1.5"/><rect class="phy" x="1252" y="657.7" width="35" height="7" rx="1.5"/><rect class="ug" x="1252" y="665.3" width="35" height="7" rx="1.5"/>
<rect class="app" x="1295" y="642.3" width="35" height="7" rx="1.5"/><rect class="acc" x="1295" y="650" width="35" height="7" rx="1.5"/>
<rect class="apq" x="1339" y="642.3" width="35" height="7" rx="1.5"/><rect class="acc" x="1339" y="650" width="35" height="7" rx="1.5"/>
<rect class="app" x="1382" y="642.3" width="35" height="7" rx="1.5"/><rect class="acc" x="1382" y="650" width="35" height="7" rx="1.5"/><rect class="phy" x="1382" y="657.7" width="35" height="7" rx="1.5"/><rect class="ug" x="1382" y="665.3" width="35" height="7" rx="1.5"/>
<rect class="apq" x="1426" y="642.3" width="35" height="7" rx="1.5"/><rect class="acc" x="1426" y="650" width="35" height="7" rx="1.5"/>
<rect class="app" x="1467.5" y="642.3" width="35" height="7" rx="1.5"/><rect class="acc" x="1467.5" y="650" width="35" height="7" rx="1.5"/>
<rect class="for" x="1513.5" y="619.3" width="35" height="7" rx="1.5"/><rect class="web" x="1513.5" y="627" width="35" height="7" rx="1.5"/><rect class="ins" x="1513.5" y="634.7" width="35" height="7" rx="1.5"/><rect class="app" x="1513.5" y="642.3" width="35" height="7" rx="1.5"/><rect class="phy" x="1513.5" y="657.7" width="35" height="7" rx="1.5"/><rect class="ug" x="1513.5" y="665.3" width="35" height="7" rx="1.5"/><rect class="cus" x="1513.5" y="673" width="35" height="7" rx="1.5"/>
</g>
<text class="tw" x="564.5" y="617">Social</text>
<text class="tw" x="608" y="617">Social</text><text class="tw" x="608" y="624.6">Forum</text><text class="tt" x="608" y="632.3">Webpage</text><text class="tt" x="608" y="640">Installer</text><text class="tt" x="608" y="678.3">Cust. Service</text>
<text class="tw" x="651.5" y="624.6">Forum</text><text class="tt" x="651.5" y="632.3">Webpage</text>
<text class="tt" x="705" y="632.3">Webpage</text><text class="tt" x="748" y="632.3">Webpage</text><text class="tt" x="791.5" y="632.3">Webpage</text><text class="tt" x="834.5" y="632.3">Webpage</text><text class="tt" x="878.5" y="632.3">Webpage</text>
<text class="tt" x="919.5" y="632.3">Webpage</text><text class="tt" x="919.5" y="640">Installer</text>
<text class="tt" x="965" y="632.3">Webpage</text><text class="tt" x="965" y="640">Installer</text>
<text class="tt" x="1008.5" y="632.3">Webpage</text>
<text class="tt" x="1053.5" y="640">Installer</text>
<text class="tw" x="1099.5" y="647.6">App</text>
<text class="tw" x="1139" y="647.6">App</text><text class="tt" x="1139" y="655.3">myAccount</text><text class="tt" x="1139" y="663">Physical product</text><text class="tt" x="1139" y="670.6">User Guide</text>
<text class="tw" x="1182.5" y="647.6">App</text><text class="tt" x="1182.5" y="655.3">myAccount</text>
<text class="tw" x="1226" y="647.6">App</text><text class="tt" x="1226" y="655.3">myAccount</text><text class="tt" x="1226" y="663">Physical product</text><text class="tt" x="1226" y="670.6">User Guide</text>
<text class="tw" x="1269.5" y="647.6">App</text><text class="tt" x="1269.5" y="655.3" text-decoration="line-through">myAccount</text><text class="tt" x="1269.5" y="663">Physical product</text><text class="tt" x="1269.5" y="670.6">User Guide</text>
<text class="tw" x="1312.5" y="647.6">App</text><text class="tt" x="1312.5" y="655.3">myAccount</text>
<text class="tw" x="1356.5" y="647.6">App?</text><text class="tt" x="1356.5" y="655.3">myAccount</text>
<text class="tw" x="1399.5" y="647.6">App</text><text class="tt" x="1399.5" y="655.3">myAccount</text><text class="tt" x="1399.5" y="663">Physical product</text><text class="tt" x="1399.5" y="670.6">User Guide</text>
<text class="tw" x="1443.5" y="647.6">App?</text><text class="tt" x="1443.5" y="655.3">myAccount</text>
<text class="tw" x="1485" y="647.6">App</text><text class="tt" x="1485" y="655.3">myAccount</text>
<text class="tw" x="1531" y="624.6">Forum</text><text class="tt" x="1531" y="632.3">Webpage</text><text class="tt" x="1531" y="640">Installer</text><text class="tw" x="1531" y="647.6">App</text><text class="tt" x="1531" y="663">Physical product</text><text class="tt" x="1531" y="670.6">User Guide</text><text class="tt" x="1531" y="678.3">Cust. Service</text>
</g>

<!-- Bottom partial flow -->
<g id="partial-flow">
<rect x="458" y="749" width="202" height="163" fill="#fff"/>
<path d="M660,749 L458,749 L458,912 L660,912" fill="none" stroke="#e3e3e3" stroke-width="1.5"/>
<g class="lconn">
<path d="M492,856 L511,856" stroke-dasharray="5 2" marker-end="url(#arr)"/>
<path d="M533,856 L542,856" marker-end="url(#arr)"/>
<path d="M563,856 L585,856" stroke-dasharray="5 2" marker-end="url(#arr)"/>
<path d="M607,856 L628,856" stroke-dasharray="5 2" marker-end="url(#arr)"/>
<path d="M650,856 L660,856"/>
<path d="M522,863.5 C522,885 560,882 572,867 C576,861 580,856 585,856"/>
<path d="M596,848.5 C596,800 628,775 660,773"/>
<path d="M596,848.5 C600,820 630,808 660,807"/>
<path d="M639,848.5 C639,838 648,832 660,831"/>
</g>
<rect class="sal" x="472" y="853" width="20" height="6" rx="1.5"/><line class="il" x1="476" y1="856" x2="488" y2="856"/>
<path class="dia" d="M522,848.5 L533,856 L522,863.5 L511,856 Z"/><line class="il" x1="518" y1="855" x2="526" y2="855"/><line class="il" x1="518" y1="857.3" x2="526" y2="857.3"/>
<rect class="sal" x="542" y="853" width="21" height="6" rx="1.5"/><line class="il" x1="545" y1="856" x2="560" y2="856"/>
<path class="dia" d="M596,848.5 L607,856 L596,863.5 L585,856 Z"/><line class="il" x1="593" y1="856" x2="599" y2="856"/>
<path class="dia" d="M639,848.5 L650,856 L639,863.5 L628,856 Z"/><line class="il" x1="635" y1="855" x2="643" y2="855"/><line class="il" x1="635" y1="857.3" x2="643" y2="857.3"/>
</g>
</svg>
